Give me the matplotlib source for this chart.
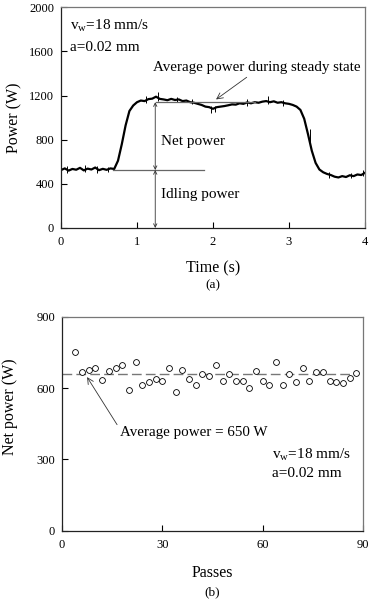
import matplotlib
matplotlib.use("Agg")
import matplotlib.pyplot as plt

plt.rcParams['font.family'] = ['Liberation Serif', 'DejaVu Serif']
plt.rcParams['mathtext.fontset'] = 'custom'
plt.rcParams['mathtext.rm'] = 'Liberation Serif'

# panel (a): power trace
time_s = [0.00, 0.05, 0.10, 0.15, 0.20, 0.25, 0.30, 0.35, 0.40, 0.45,
          0.50, 0.55, 0.60, 0.65, 0.70, 0.75, 0.80, 0.85, 0.90, 0.95,
          1.00, 1.05, 1.10, 1.15, 1.20, 1.25, 1.30, 1.35, 1.40, 1.45,
          1.50, 1.55, 1.60, 1.65, 1.70, 1.75, 1.80, 1.85, 1.90, 1.95,
          2.00, 2.05, 2.10, 2.15, 2.20, 2.25, 2.30, 2.35, 2.40, 2.45,
          2.50, 2.55, 2.60, 2.65, 2.70, 2.75, 2.80, 2.85, 2.90, 2.95,
          3.00, 3.05, 3.10, 3.15, 3.20, 3.25, 3.30, 3.35, 3.40, 3.45,
          3.50, 3.55, 3.60, 3.65, 3.70, 3.75, 3.80, 3.85, 3.90, 3.95, 4.00]
power_w = [525, 540, 520, 535, 528, 545, 522, 538, 530, 548,
           524, 536, 527, 540, 535, 610, 760, 930, 1060, 1110,
           1140, 1155, 1150, 1168, 1172, 1190, 1170, 1165, 1158, 1170,
           1160, 1165, 1150, 1155, 1140, 1135, 1125, 1115, 1100, 1095,
           1080, 1095, 1100, 1105, 1112, 1120, 1118, 1130, 1125, 1138,
           1130, 1140, 1135, 1145, 1150, 1140, 1148, 1135, 1140, 1130,
           1125, 1115, 1100, 1070, 990, 850, 700, 590, 530, 505,
           490, 480, 465, 458, 470, 462, 478, 470, 485, 480, 500]
# noise spikes (time, low, high)
spike_t = [0.08, 0.32, 0.47, 0.62, 1.12, 1.27, 1.52, 1.73, 1.98, 2.02, 2.45, 2.73, 2.92, 3.27, 3.52, 3.82, 3.97]
spike_lo = [500, 505, 500, 505, 1130, 1150, 1140, 1120, 1040, 1050, 1110, 1120, 1110, 780, 455, 450, 470]
spike_hi = [560, 570, 560, 555, 1200, 1230, 1190, 1165, 1110, 1105, 1170, 1200, 1160, 900, 510, 500, 525]

idle_level = 525
steady_level = 1140

# panel (b): net power per pass
passes = [4, 6, 8, 10, 12, 14, 16, 18, 20, 22, 24, 26, 28, 30, 32, 34, 36, 38, 40, 42, 44, 46,
          48, 50, 52, 54, 56, 58, 60, 62, 64, 66, 68, 70, 72, 74, 76, 78, 80, 82, 84, 86, 88]
net_power = [753, 666, 676, 686, 634, 672, 686, 697, 592, 709, 614, 624, 638, 630, 683, 585,
             677, 639, 614, 657, 652, 698, 631, 657, 631, 631, 599, 670, 630, 614, 709, 614,
             657, 625, 686, 631, 669, 669, 631, 627, 620, 642, 662]
avg_net = 660

fig = plt.figure(figsize=(3.78, 6.03), dpi=100)
ax1 = fig.add_axes([0.1614, 0.6219, 0.8042, 0.366])
ax2 = fig.add_axes([0.1640, 0.1199, 0.7963, 0.3549])

for ax in (ax1, ax2):
    ax.tick_params(direction='in', length=4, width=0.8, labelsize=9)
    ax.tick_params(axis='x', pad=6)
    ax.tick_params(axis='y', pad=5)
    for side in ('left', 'bottom'):
        ax.spines[side].set_color('#222222')
        ax.spines[side].set_linewidth(0.9)
    for side in ('top', 'right'):
        ax.spines[side].set_color('#777777')
        ax.spines[side].set_linewidth(0.9)

# ---- (a)
ax1.plot(time_s, power_w, color='black', lw=1.6)
ax1.vlines(spike_t, spike_lo, spike_hi, color='black', lw=0.7)
ax1.plot([0.68, 1.88], [idle_level, idle_level], color='#666666', lw=0.9)
ax1.plot([1.25, 2.55], [steady_level, steady_level], color='#666666', lw=0.9)
ax1.annotate('', xy=(1.24, steady_level), xytext=(1.24, idle_level),
             arrowprops=dict(arrowstyle='<->', lw=0.6, color='#333333', mutation_scale=6, shrinkA=0, shrinkB=0))
ax1.annotate('', xy=(1.24, idle_level), xytext=(1.24, 0),
             arrowprops=dict(arrowstyle='<->', lw=0.6, color='#333333', mutation_scale=6, shrinkA=0, shrinkB=0))
ax1.text(1.32, 780, 'Net power', fontsize=11, va='center')
ax1.text(1.32, 300, 'Idling power', fontsize=11, va='center')
ax1.annotate('Average power during steady state', xy=(2.04, 1165), xytext=(1.21, 1450),
             fontsize=10.8, va='center',
             arrowprops=dict(arrowstyle='->', lw=0.6, color='#333333', shrinkA=0, shrinkB=0,
                             relpos=(0.47, 0.0)))
ax1.text(0.12, 1837, r'v$_\mathrm{w}$=18 mm/s', fontsize=11, va='center')
ax1.text(0.12, 1638, 'a=0.02 mm', fontsize=11, va='center')
ax1.set_xlim(0, 4)
ax1.set_ylim(0, 2000)
ax1.set_xticks([0, 1, 2, 3, 4])
ax1.set_yticks([0, 400, 800, 1200, 1600, 2000])
ax1.set_xlabel('Time (s)', fontsize=11.5, labelpad=9)
ax1.set_ylabel('Power (W)', fontsize=11.5, labelpad=5)
fig.text(0.563, 0.527, '(a)', fontsize=9.5, ha='center', va='center')

# ---- (b)
ax2.plot([0, 88], [avg_net, avg_net], color='#777777', lw=1.0, dashes=(7, 3))
ax2.plot(passes, net_power, linestyle='none', marker='o', markersize=4.2,
         markerfacecolor='white', markeredgecolor='black', markeredgewidth=0.6)
ax2.annotate('Average power = 650 W', xy=(7.5, 646), xytext=(17.3, 411),
             fontsize=10.8, va='center', ha='left',
             arrowprops=dict(arrowstyle='->', lw=0.6, color='#333333', shrinkA=0, shrinkB=0,
                             relpos=(0.0, 0.8)))
ax2.text(62.8, 318, r'v$_\mathrm{w}$=18 mm/s', fontsize=11, va='center')
ax2.text(62.8, 240, 'a=0.02 mm', fontsize=11, va='center')
ax2.set_xlim(0, 90)
ax2.set_ylim(0, 900)
ax2.set_xticks([0, 30, 60, 90])
ax2.set_yticks([0, 300, 600, 900])
ax2.set_xlabel('Passes', fontsize=11.5, labelpad=10)
ax2.set_ylabel('Net power (W)', fontsize=11.5)
ax2.yaxis.set_label_coords(-0.145, 0.58)
fig.text(0.562, 0.018, '(b)', fontsize=9.5, ha='center', va='center')

fig.savefig('out.png', dpi=100)
